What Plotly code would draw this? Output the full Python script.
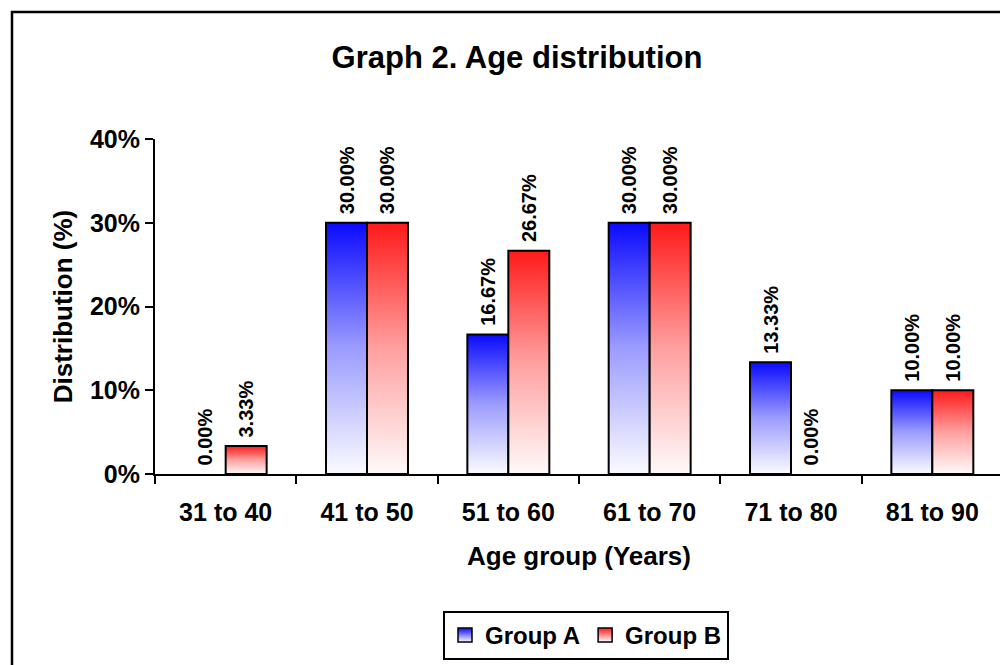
import plotly.graph_objects as go

# ---- data ----
categories = ["31 to 40", "41 to 50", "51 to 60", "61 to 70", "71 to 80", "81 to 90"]
group_a = [0.0, 0.30, 0.1667, 0.30, 0.1333, 0.10]
group_b = [0.0333, 0.30, 0.2667, 0.30, 0.0, 0.10]
series_names = ["Group A", "Group B"]
y_ticks = [0, 0.1, 0.2, 0.3, 0.4]
y_tick_labels = ["0%", "10%", "20%", "30%", "40%"]

# ---- style ----
FONT = "Arial, 'Liberation Sans', sans-serif"
BAR_W = 0.29
W, H = 1008, 665
OFF = 8  # page body margin
L, R, T, B = 155 - OFF, W - (1003 - OFF), 139 - OFF, H - (474 - OFF)
PW, PH = W - L - R, H - T - B
Y0 = T + PH  # figure pixel row of the x axis

styles = [
    dict(offset=-BAR_W, top="#0a0aff", mid="#9c9cff", bottom="#fbfbff"),
    dict(offset=0.0, top="#ff1a1a", mid="#ffa0a0", bottom="#fffafa"),
]

xs = list(range(len(categories)))
fig = go.Figure()

for name, values, st in zip(series_names, [group_a, group_b], styles):
    # transparent bars carry the value labels
    fig.add_trace(go.Bar(
        x=xs, y=values, width=BAR_W, offset=st["offset"],
        marker=dict(color="rgba(0,0,0,0)", line=dict(width=0)),
        texttemplate="\u00a0%{y:.2%}", textposition="outside", textangle=-90,
        textfont=dict(family=FONT, size=20, color="black", weight="bold"),
        constraintext="none", cliponaxis=False, showlegend=False, hoverinfo="skip",
    ))
    # gradient-filled bar bodies
    for i, v in enumerate(values):
        if v <= 0:
            continue
        x0 = i + st["offset"]
        x1 = x0 + BAR_W
        fig.add_trace(go.Scatter(
            x=[x0, x0, x1, x1, x0], y=[0, v, v, 0, 0],
            mode="lines", fill="toself",
            fillgradient=dict(type="vertical",
                              colorscale=[[0, st["bottom"]], [0.5, st["mid"]], [1, st["top"]]]),
            line=dict(color="black", width=2),
            showlegend=False, hoverinfo="skip",
        ))
    # legend entry
    fig.add_trace(go.Scatter(
        x=[None], y=[None], mode="markers", name=name,
        marker=dict(symbol="square", size=14, color=st["top"],
                    gradient=dict(type="vertical", color="white"),
                    line=dict(color="black", width=1.5)),
    ))

boundaries = [i - 0.5 for i in range(len(categories) + 1)]

fig.update_layout(
    width=W, height=H,
    margin=dict(l=L, r=R, t=T, b=B),
    paper_bgcolor="white", plot_bgcolor="white",
    barmode="overlay",
    font=dict(family=FONT, color="black", size=24, weight="bold"),
    title=dict(text="Graph 2. Age distribution", x=(517 - OFF) / W, xanchor="center",
               y=1 - (57 - OFF) / H, yanchor="middle",
               font=dict(family=FONT, size=31, color="black", weight="bold")),
    xaxis=dict(
        range=[-0.5, 5.5], tickmode="array", tickvals=xs, ticktext=categories,
        ticks="outside", ticklen=15, tickcolor="rgba(0,0,0,0)",
        tickfont=dict(family=FONT, size=25, color="black", weight="bold"),
        showline=True, linecolor="black", linewidth=2,
        showgrid=False, zeroline=False,
        minor=dict(tickmode="array", tickvals=boundaries, ticks="outside",
                   ticklen=8, tickcolor="black", tickwidth=2, showgrid=False),
        title=dict(text="Age group (Years)", standoff=22,
                   font=dict(family=FONT, size=26, color="black", weight="bold")),
    ),
    yaxis=dict(
        range=[0, 0.4], tickmode="array", tickvals=y_ticks, ticktext=y_tick_labels,
        ticks="outside", ticklen=8, tickwidth=2, tickcolor="black",
        tickfont=dict(family=FONT, size=25, color="black", weight="bold"),
        showline=True, linecolor="black", linewidth=2,
        showgrid=False, zeroline=False,
        title=dict(text="Distribution (%)", standoff=10,
                   font=dict(family=FONT, size=26, color="black", weight="bold")),
    ),
    legend=dict(
        orientation="h", x=(586 - OFF - L) / PW, xanchor="center",
        y=(Y0 - (660 - OFF)) / PH, yanchor="bottom",
        bordercolor="black", borderwidth=2, bgcolor="white",
        font=dict(family=FONT, size=24, color="black", weight="bold"),
        itemwidth=30,
    ),
    shapes=[dict(
        type="rect", xref="paper", yref="paper",
        x0=(12 - OFF - L) / PW, x1=(1006 - OFF - L) / PW,
        y0=(Y0 - (672 - OFF)) / PH, y1=(Y0 - (12 - OFF)) / PH,
        line=dict(color="black", width=2.5), fillcolor="rgba(0,0,0,0)", layer="below",
    )],
)

fig.write_html("out.html", config={"displayModeBar": False})
